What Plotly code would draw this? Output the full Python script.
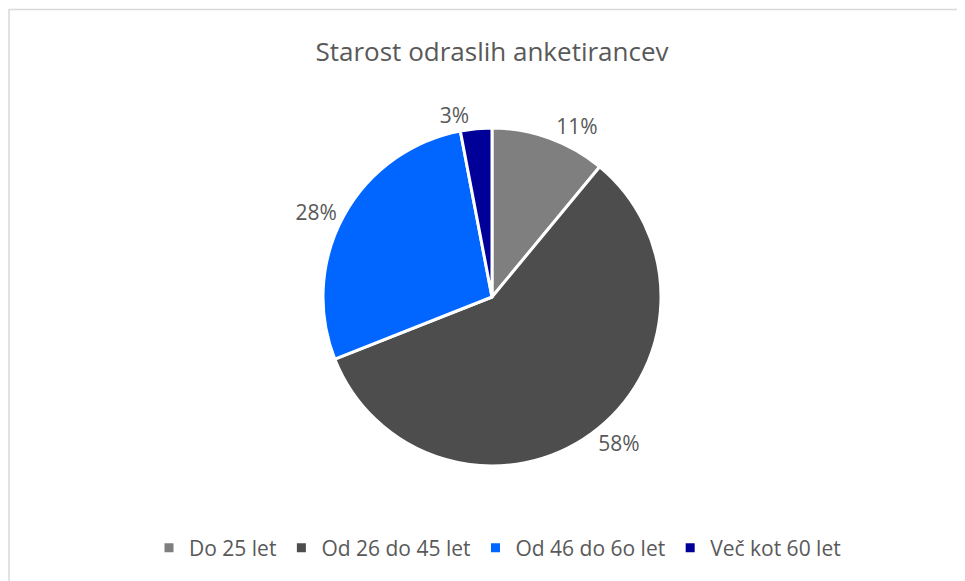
import plotly.graph_objects as go

# age groups of adult respondents
categories = ["Do 25 let", "Od 26 do 45 let", "Od 46 do 6o let", "Več kot 60 let"]
shares = [11, 58, 28, 3]
colors = ["#7f7f7f", "#4d4d4d", "#0066ff", "#000099"]

# page body has an 8px margin, so the figure is a bit smaller than the window
W, H = 957, 573
cx, cy, r = 484, 289, 169  # pie centre and radius in pixels

fig = go.Figure()
fig.add_trace(go.Pie(
    labels=categories,
    values=shares,
    sort=False,
    direction="clockwise",
    rotation=0,
    marker=dict(colors=colors, line=dict(color="white", width=3)),
    textinfo="percent",
    texttemplate="%{percent:.0%}",
    textposition="outside",
    outsidetextfont=dict(size=21, color="#595959"),
    domain=dict(x=[(cx - r) / W, (cx + r) / W], y=[(H - cy - r) / H, (H - cy + r) / H]),
    hoverinfo="label+percent",
))

fig.update_layout(
    width=W, height=H,
    margin=dict(l=0, r=0, t=0, b=0),
    paper_bgcolor="white",
    font=dict(family="Open Sans, Liberation Sans, sans-serif", color="#595959"),
    title=dict(text="Starost odraslih anketirancev", x=484 / W, xanchor="center",
               y=1 - 44 / H, yanchor="middle", font=dict(size=26, color="#595959")),
    legend=dict(orientation="h", x=489.5 / W, xanchor="center", y=(H - 540) / H, yanchor="middle",
                font=dict(size=21, color="#595959"), itemwidth=30, traceorder="normal"),
    shapes=[dict(type="rect", xref="paper", yref="paper",
                 x0=1 / W, x1=1.02, y0=-0.02, y1=1 - 1.5 / H,
                 line=dict(color="#d9d9d9", width=1.5))],
)

fig.write_html("out.html")
